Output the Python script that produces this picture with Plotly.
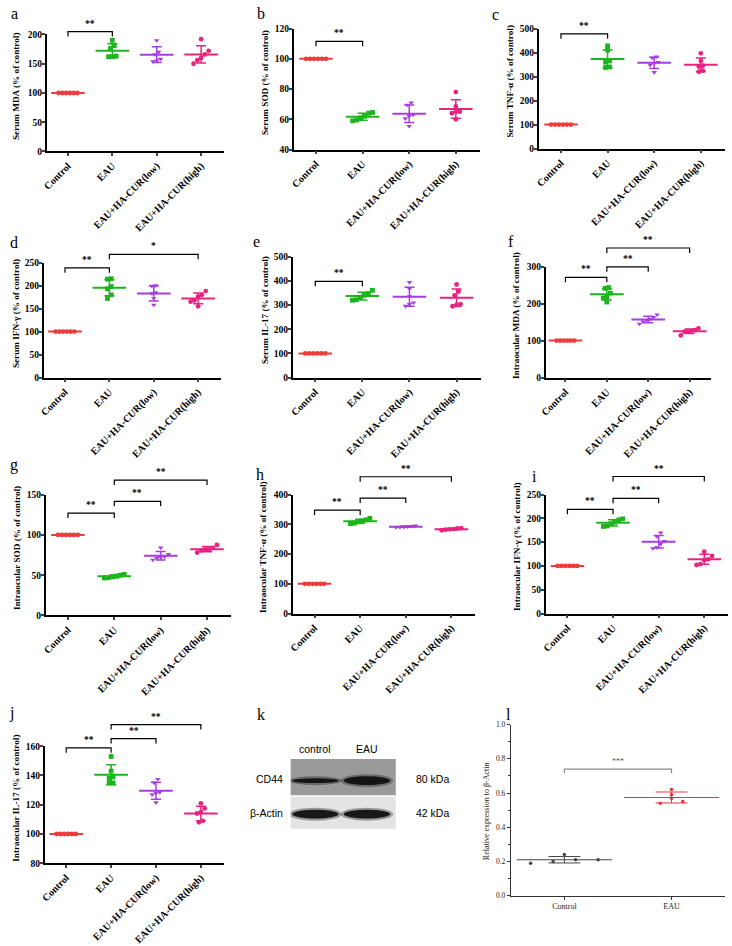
import numpy as np
import plotly.graph_objects as go

# groups and measured values (% of control), n = 6 per group
groups = ["Control", "EAU", "EAU+HA-CUR(low)", "EAU+HA-CUR(high)"]

serum_mda = [[100] * 6, [190, 181, 176, 162, 162, 163],
             [190, 170, 166, 158, 154, 155], [192, 172, 160, 156, 150, 166]]
serum_sod = [[100] * 6, [64.5, 64, 59, 59.5, 62, 61],
             [71, 69.5, 63, 60.5, 55.5, 62], [78, 68.5, 65, 65, 60, 64]]
serum_tnf = [[100] * 6, [428, 410, 365, 340, 338, 360],
             [383, 378, 360, 356, 318, 348], [397, 365, 345, 325, 320, 342]]
serum_ifn = [[100] * 6, [215, 214, 198, 180, 172, 193],
             [200, 199, 185, 183, 158, 172], [188, 180, 176, 168, 155, 165]]
serum_il17 = [[100] * 6, [361, 348, 340, 322, 320, 331],
              [394, 368, 335, 310, 303, 296], [385, 356, 340, 304, 302, 295]]
ocular_mda = [[100] * 6, [243, 241, 228, 215, 204, 218],
              [170, 163, 158, 155, 145, 151], [133, 128, 126, 124, 114, 125]]
ocular_sod = [[100] * 6, [51, 50, 49, 48, 47, 46.5],
              [84, 76, 73, 72, 69, 71], [87.5, 84, 82, 82, 78, 80.5]]
ocular_tnf = [[100] * 6, [320, 315, 311, 308, 304, 302],
              [295, 294, 292, 291, 290, 291], [287, 286, 284, 283, 282, 280]]
ocular_ifn = [[100] * 6, [199, 197, 192, 189, 184, 183],
              [170, 162, 152, 146, 139, 137], [130, 121, 114, 112, 104, 102]]
ocular_il17 = [[100] * 6, [153, 143, 138, 135, 135, 139],
               [137.5, 135, 128.5, 128, 127, 121.5], [121, 117.5, 115, 114, 109, 108]]

# western blot (k) and its quantification (l)
wb_lanes = ["control", "EAU"]
wb_cd44 = [0.55, 1.0]
wb_actin = [1.0, 1.0]
cd44_groups = ["Control", "EAU"]
cd44_control = [0.24, 0.21, 0.19, 0.20, 0.21]
cd44_eau = [0.62, 0.59, 0.54, 0.55, 0.57]

W, H = 732, 946
SERIF = "Liberation Serif"
colors = ["#ee3b3b", "#1db51d", "#a83ce0", "#e8237f"]
symbols = ["circle", "square", "triangle-down", "circle"]
XR = (-0.48, 3.52)


def swarm(vals, px_per_unit, step, gap=4.0):
    # spread near-equal values sideways, symmetric about the group centre
    vals = np.asarray(vals, float)
    order = np.argsort(vals)
    offs = np.zeros(len(vals))
    cluster = [order[0]]

    def flush(c):
        for k, i in enumerate(c):
            offs[i] = (k - (len(c) - 1) / 2) * step

    for i in order[1:]:
        if (vals[i] - vals[cluster[-1]]) * px_per_unit < gap:
            cluster.append(i)
        else:
            flush(cluster)
            cluster = [i]
    flush(cluster)
    return offs


def xpx(box, xr, x):
    return box[0] + (x - xr[0]) / (xr[1] - xr[0]) * (box[1] - box[0])


def ypx(box, yr, y):
    return box[3] - (y - yr[0]) / (yr[1] - yr[0]) * (box[3] - box[2])


# letter, data, y title, plot box (left, right, top, bottom px), y axis, brackets, letter pos, title x
panels = [
    ("a", serum_mda, "Serum MDA (% of control)", (41, 220, 30, 149), (0, 200, 50),
     [(0, 1, 205, "**")], (9, 9), 10),
    ("b", serum_sod, "Serum SOD (% of control)", (290, 478, 24, 147), (40, 120, 20),
     [(0, 1, 111.5, "**")], (257, 9), 261),
    ("c", serum_tnf, "Serum TNF-α (% of control)", (537, 725, 24, 146), (0, 500, 100),
     [(0, 1, 478, "**")], (494, 10), 508),
    ("d", serum_ifn, "Serum IFN-γ (% of control)", (38, 217, 262, 379), (0, 250, 50),
     [(0, 1, 238.6, "**"), (1, 3, 268, "*")], (8, 242), 10),
    ("e", serum_il17, "Serum IL-17 (% of control)", (289, 479, 256, 379), (0, 500, 100),
     [(0, 1, 398, "**")], (253, 241), 261),
    ("f", ocular_mda, "Intraocular MDA (% of control)", (544, 711, 266, 379), (0, 300, 100),
     [(0, 1, 270.7, "**"), (1, 2, 299, "**"), (1, 3, 350, "**")], (509, 241), 514),
    ("g", ocular_sod, "Intraocular SOD (% of control)", (40, 227, 498, 621), (0, 150, 50),
     [(0, 1, 127, "**"), (1, 2, 141.5, "**"), (1, 3, 168, "**")], (8, 468), 11),
    ("h", ocular_tnf, "Intraocular TNF-α (% of control)", (289, 473, 498, 619), (0, 400, 100),
     [(0, 1, 348, "**"), (1, 2, 388, "**"), (1, 3, 460, "**")], (256, 478), 259),
    ("i", ocular_ifn, "Intraocular IFN-γ (% of control)", (544, 728, 498, 619), (0, 250, 50),
     [(0, 1, 219, "**"), (1, 2, 242, "**"), (1, 3, 288, "**")], (533, 480), 515),
    ("j", ocular_il17, "Intraocular IL-17 (% of control)", (39, 220, 754, 873), (80, 160, 20),
     [(0, 1, 158.9, "**"), (1, 2, 165.2, "**"), (1, 3, 174.8, "**")], (6, 720), 10),
]

fig = go.Figure()
layout = {}
shapes, annos = [], []


def ax_names(n):
    s = "" if n == 1 else str(n)
    return "x" + s, "y" + s, "xaxis" + s, "yaxis" + s


def letter(txt, pos):
    annos.append(dict(text=txt, x=pos[0] / W, y=1 - pos[1] / H, xref="paper", yref="paper",
                      showarrow=False, xanchor="center", yanchor="middle",
                      font=dict(family=SERIF, size=16, color="black")))


def bracket(box, xr, yr, b, leg=5, color="black", font=None):
    x1 = xpx(box, xr, b[0]) / W
    x2 = xpx(box, xr, b[1]) / W
    yl = ypx(box, yr, b[2])
    y0, y1 = 1 - yl / H, 1 - (yl + leg) / H
    shapes.append(dict(type="path", xref="paper", yref="paper",
                       path=f"M{x1},{y1} L{x1},{y0} L{x2},{y0} L{x2},{y1}",
                       line=dict(color=color, width=1.2)))
    annos.append(dict(text=b[3], x=(x1 + x2) / 2, y=1 - (yl - 1) / H, xref="paper", yref="paper",
                      showarrow=False, xanchor="center", yanchor="bottom",
                      font=font or dict(family=SERIF, size=9.5, color="black", weight="bold")))


xtickf = dict(family=SERIF, size=10, color="black", weight="bold")
ytickf = dict(family=SERIF, size=9.5, color="black", weight="bold")

for n, (key, data, ytitle, box, yax, brs, lpos, tx) in enumerate(panels, start=1):
    xa, ya, xk, yk = ax_names(n)
    yr = (yax[0], yax[1])
    ppu = (box[3] - box[2]) / (yr[1] - yr[0])
    for g, vals in enumerate(data):
        vals = np.asarray(vals, float)
        offs = swarm(vals, ppu, 0.085)
        fig.add_trace(go.Scatter(
            x=[g], y=[vals.mean()], mode="markers", xaxis=xa, yaxis=ya,
            marker=dict(symbol="line-ew", size=24, line=dict(color=colors[g], width=2)),
            error_y=dict(type="data", array=[vals.std(ddof=1)], color=colors[g],
                         thickness=1.5, width=5),
            showlegend=False, hoverinfo="skip"))
        fig.add_trace(go.Scatter(
            x=g + offs, y=vals, mode="markers", xaxis=xa, yaxis=ya, cliponaxis=False,
            marker=dict(symbol=symbols[g], size=4.8, color=colors[g]),
            showlegend=False))
    layout[xk] = dict(domain=[box[0] / W, box[1] / W], anchor=ya, range=list(XR),
                      tickvals=[0, 1, 2, 3], ticktext=groups, tickangle=-45,
                      ticks="outside", ticklen=3, tickwidth=1.5, showline=True,
                      linewidth=1.5, linecolor="black", showgrid=False, zeroline=False,
                      tickfont=xtickf)
    layout[yk] = dict(domain=[1 - box[3] / H, 1 - box[2] / H], anchor=xa, range=list(yr),
                      tickvals=list(range(yax[0], yax[1] + 1, yax[2])),
                      ticks="outside", ticklen=3, tickwidth=1.5, showline=True,
                      linewidth=1.5, linecolor="black", showgrid=False, zeroline=False,
                      tickfont=ytickf, ticklabelstandoff=-2)
    annos.append(dict(text=ytitle, x=tx / W, y=1 - ((box[2] + box[3]) / 2 - 7) / H,
                      xref="paper", yref="paper", showarrow=False, textangle=-90,
                      xanchor="center", yanchor="middle",
                      font=dict(family=SERIF, size=9.2, color="black", weight="bold")))
    for b in brs:
        bracket(box, XR, yr, b)
    letter(key, lpos)

# ---- k: western blot ----
kbox = (287, 393, 767, 838)
kxr, kyr = (-0.48, 1.56), (0, 2)
layout["xaxis11"] = dict(domain=[kbox[0] / W, kbox[1] / W], anchor="y11", range=list(kxr),
                         visible=False)
layout["yaxis11"] = dict(domain=[1 - kbox[3] / H, 1 - kbox[2] / H], anchor="x11",
                         range=list(kyr), visible=False)
fig.add_trace(go.Scatter(x=[0, 1], y=[1, 1], mode="markers", xaxis="x11", yaxis="y11",
                         marker=dict(opacity=0), showlegend=False, hoverinfo="skip"))
shapes.append(dict(type="rect", xref="x11 domain", yref="y11 domain", x0=0, x1=1, y0=0.48,
                   y1=1, fillcolor="#9a9a9a", line=dict(width=0), layer="below"))
shapes.append(dict(type="rect", xref="x11 domain", yref="y11 domain", x0=0, x1=1, y0=0,
                   y1=0.46, fillcolor="#e4e4e4", line=dict(width=0), layer="below"))
kppu = (kbox[3] - kbox[2]) / (kyr[1] - kyr[0])
for row_y, strength in ((1.38, wb_cd44), (0.42, wb_actin)):
    for lane, s in enumerate(strength):
        h = 9 * s / kppu
        for widen, op in ((0.06, 0.35), (0.0, 0.95)):
            shapes.append(dict(type="circle", xref="x11", yref="y11",
                               x0=lane - 0.45 - widen, x1=lane + 0.45 + widen,
                               y0=row_y - h / 2 - widen, y1=row_y + h / 2 + widen,
                               fillcolor="#111111", opacity=op, line=dict(width=0)))
sans = dict(family="Liberation Sans", size=10.5, color="black")
for lane, name in enumerate(wb_lanes):
    annos.append(dict(text=name, x=xpx(kbox, kxr, lane) / W, y=1 - 757 / H, xref="paper",
                      yref="paper", showarrow=False, xanchor="center", yanchor="middle",
                      font=sans))
for txt, yy in (("CD44", 787), ("β-Actin", 822)):
    annos.append(dict(text=txt, x=281 / W, y=1 - yy / H, xref="paper", yref="paper",
                      showarrow=False, xanchor="right", yanchor="middle", font=sans))
for txt, yy in (("80 kDa", 787), ("42 kDa", 822)):
    annos.append(dict(text=txt, x=411 / W, y=1 - yy / H, xref="paper", yref="paper",
                      showarrow=False, xanchor="left", yanchor="middle", font=sans))
letter("k", (257, 722))

# ---- l: CD44 quantification ----
lbox = (509, 725, 732, 906)
lxr, lyr = (-0.5, 1.5), (0, 1)
lcolors = ["#444444", "#e8353a"]
lppu = (lbox[3] - lbox[2]) / (lyr[1] - lyr[0])
for g, vals in enumerate([cd44_control, cd44_eau]):
    vals = np.asarray(vals, float)
    offs = swarm(vals, lppu, 0.21, gap=3.0)
    fig.add_trace(go.Scatter(
        x=[g], y=[vals.mean()], mode="markers", xaxis="x12", yaxis="y12",
        marker=dict(symbol="line-ew", size=68, line=dict(color=lcolors[g], width=1)),
        error_y=dict(type="data", array=[vals.std(ddof=1)], color=lcolors[g],
                     thickness=1, width=16),
        showlegend=False, hoverinfo="skip"))
    fig.add_trace(go.Scatter(
        x=g + offs, y=vals, mode="markers", xaxis="x12", yaxis="y12",
        marker=dict(size=3.5, color=lcolors[g]), showlegend=False))
lfont = dict(family=SERIF, size=8, color="#222222")
layout["xaxis12"] = dict(domain=[lbox[0] / W, lbox[1] / W], anchor="y12", range=list(lxr),
                         tickvals=[0, 1], ticktext=cd44_groups, ticks="outside", ticklen=3,
                         showline=True, linewidth=1, linecolor="#333", tickcolor="#333",
                         showgrid=False, zeroline=False, tickfont=lfont)
layout["yaxis12"] = dict(domain=[1 - lbox[3] / H, 1 - lbox[2] / H], anchor="x12",
                         range=list(lyr), dtick=0.2, tickformat=".1f", ticks="outside",
                         ticklen=3, showline=True, linewidth=1, linecolor="#333",
                         tickcolor="#333", showgrid=False, zeroline=False,
                         tickfont=dict(family=SERIF, size=7.5, color="#222222"),
                         minor=dict(ticks="outside", dtick=0.1, ticklen=2, tickcolor="#333"))
annos.append(dict(text="Relative expression to β-Actin", x=484 / W, y=1 - 820 / H,
                  xref="paper", yref="paper", showarrow=False, textangle=-90,
                  xanchor="center", yanchor="middle", font=dict(family=SERIF, size=8,
                                                                 color="#222222")))
bracket(lbox, lxr, lyr, (0, 1, 0.74, "***"), leg=4, color="#8a8a8a",
        font=dict(family=SERIF, size=8, color="#555555"))
letter("l", (507, 722))

fig.update_layout(
    width=W, height=H, margin=dict(l=0, r=0, t=0, b=0),
    paper_bgcolor="white", plot_bgcolor="white",
    shapes=shapes, annotations=annos, showlegend=False, **layout)
# the page body has a default 8px margin; drop it so the figure fills the window
fig.write_html("out.html", config={"displayModeBar": False},
               post_script="document.body.style.margin='0';document.body.style.overflow='hidden';")
